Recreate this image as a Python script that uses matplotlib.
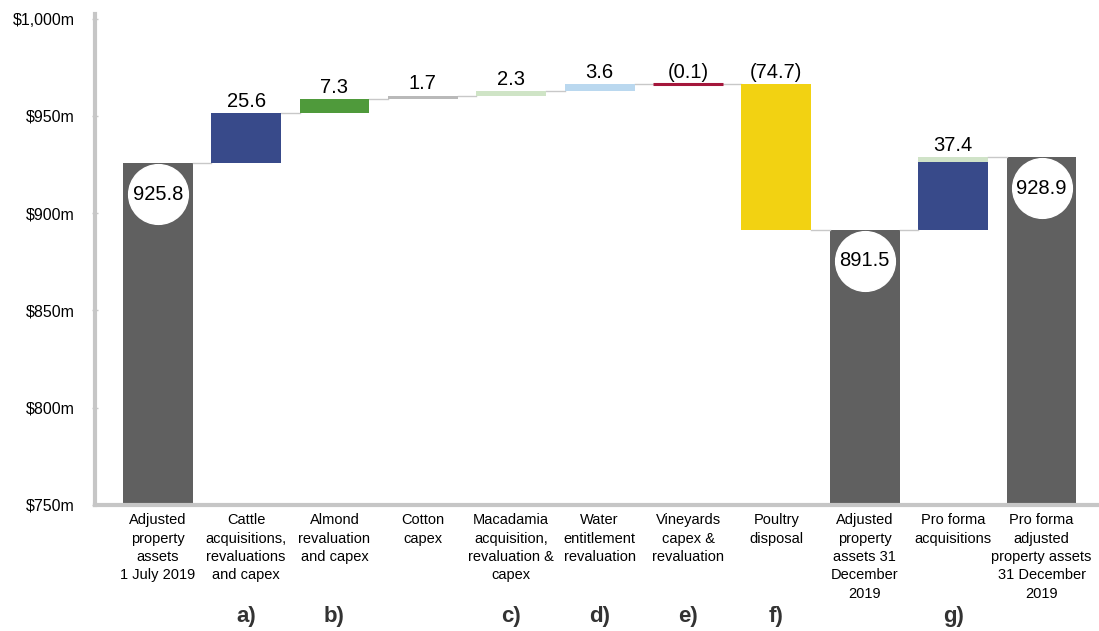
"""
waterfall of adjusted property assets, 1 July 2019 to 31 December 2019
"""
import matplotlib.pyplot as plt

plt.rcParams['font.family'] = ['Liberation Sans', 'DejaVu Sans']

categories = [
    'Adjusted\nproperty\nassets\n1 July 2019',
    'Cattle\nacquisitions,\nrevaluations\nand capex',
    'Almond\nrevaluation\nand capex',
    'Cotton\ncapex',
    'Macadamia\nacquisition,\nrevaluation &\ncapex',
    'Water\nentitlement\nrevaluation',
    'Vineyards\ncapex &\nrevaluation',
    'Poultry\ndisposal',
    'Adjusted\nproperty\nassets 31\nDecember\n2019',
    'Pro forma\nacquisitions',
    'Pro forma\nadjusted\nproperty assets\n31 December\n2019',
]
notes = ['', 'a)', 'b)', '', 'c)', 'd)', 'e)', 'f)', '', 'g)', '']

opening = 925.8
moves = [25.6, 7.3, 1.7, 2.3, 3.6, -0.1, -74.7]
move_colors = ['#384a8a', '#4f9a3b', '#b9b9b9', '#cfe4c6', '#bad8ef', '#a4163b', '#f2d212']
closing = 891.5
# pro forma acquisitions, split into two parts
proforma_parts = [34.6, 2.8]
proforma_colors = ['#384a8a', '#d0e3c8']
proforma_total = 37.4
final = 928.9

total_color = '#606060'
line_color = '#c8c8c8'
width = 0.79

fig = plt.figure(figsize=(10.99, 6.31), dpi=100)
ax = fig.add_axes([0.0864, 0.2, 0.9136, 0.778])

tops = []  # level after each bar, for the connectors

def total_bar(x, value):
    ax.bar(x, value - 750, bottom=750, width=width, color=total_color)
    ax.scatter([x], [value - 16], s=1850, color='white', zorder=3)
    ax.text(x, value - 16, f'{value:.1f}', ha='center', va='center', fontsize=14.5, zorder=4)
    tops.append(value)

# opening balance
total_bar(0, opening)

# movements
level = opening
for i, (m, c) in enumerate(zip(moves, move_colors), start=1):
    # tiny moves still get a visible sliver
    lw = 2.2 if abs(m) < 0.5 else 0
    ax.bar(i, m, bottom=level, width=width, color=c, edgecolor=c, linewidth=lw, zorder=2)
    label = f'{m:.1f}' if m > 0 else f'({-m:.1f})'
    ax.text(i, max(level, level + m) + 1.2, label, ha='center', va='bottom', fontsize=14.5)
    level += m
    tops.append(level)

# closing balance
total_bar(8, closing)

# pro forma acquisitions
base = closing
for part, c in zip(proforma_parts, proforma_colors):
    ax.bar(9, part, bottom=base, width=width, color=c)
    base += part
ax.text(9, closing + proforma_total + 1.2, f'{proforma_total:.1f}', ha='center', va='bottom', fontsize=14.5)
tops.append(closing + proforma_total)

# pro forma closing
total_bar(10, final)

# connectors between bars
for i in range(len(tops) - 1):
    ax.plot([i + width / 2, i + 1 - width / 2], [tops[i], tops[i]], color=line_color, lw=1, zorder=1)

ax.set_xlim(-0.71, 10.65)
ax.set_ylim(750, 1002.5)
ax.set_yticks(range(750, 1001, 50))
ax.set_yticklabels([f'${v:,}m' for v in range(750, 1001, 50)], fontsize=11.5)
ax.set_xticks(range(len(categories)))
ax.set_xticklabels(categories, fontsize=10.5, linespacing=1.4)
ax.tick_params(axis='x', length=0, pad=6)
ax.tick_params(axis='y', length=5, width=1, color='#c8c8c8', direction='inout', pad=12)

for side in ['top', 'right']:
    ax.spines[side].set_visible(False)
for side in ['left', 'bottom']:
    ax.spines[side].set_color('#c6c6c6')
    ax.spines[side].set_linewidth(3)

for i, n in enumerate(notes):
    if n:
        ax.text(i, -0.228, n, transform=ax.get_xaxis_transform(), ha='center', va='center',
                fontsize=16, fontweight='bold', color='#333333')

plt.savefig('out.png')
